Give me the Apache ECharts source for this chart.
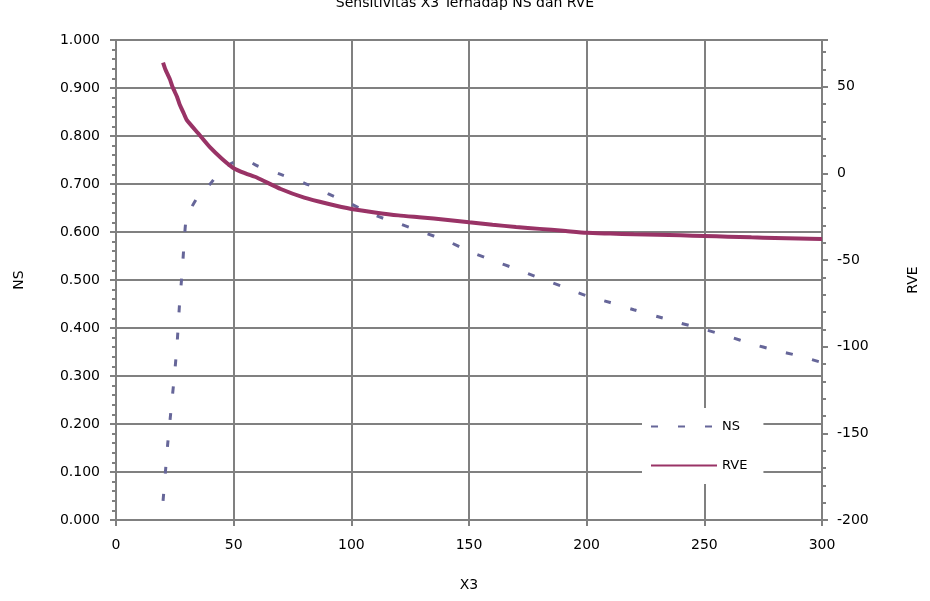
<!DOCTYPE html>
<html>
<head>
<meta charset="utf-8">
<script src="https://cdn.jsdelivr.net/npm/echarts@6/dist/echarts.min.js"></script>
<style>
  html, body { margin: 0; padding: 0; background: #fff; }
  #main { width: 930px; height: 601px; }
</style>
</head>
<body>
<div id="main"></div>
<script>
var xData = [20,21,22,23,24,25,26,27,28,29,30,35,40,45,50,55,60,70,80,90,100,
             110,120,130,140,150,160,170,180,190,200,210,220,230,240,250,260,270,280,290,300];
var nsData = [0.04,0.10,0.16,0.21,0.26,0.31,0.37,0.45,0.51,0.58,0.63,0.675,0.70,0.73,0.745,0.75,0.738,0.72,0.702,0.68,0.658,
              0.635,0.618,0.60,0.583,0.56,0.541,0.523,0.504,0.486,0.467,0.453,0.438,0.424,0.41,0.397,0.383,0.367,0.354,0.342,0.328];
var rveData = [64,60,57,54,50,47,44,40,37,34,31,23,15,8.5,3,0,-2.5,-9,-14,-17.5,-20.5,
               -22.5,-24.2,-25.4,-26.7,-28.2,-29.6,-30.9,-32,-33.1,-34.3,-34.7,-35.1,-35.4,-35.7,-36.1,-36.5,-36.9,-37.2,-37.5,-37.8];

function pairs(xs, ys) {
  return xs.map(function (x, i) { return [x, ys[i]]; });
}

var myChart = echarts.init(document.getElementById('main'));
var font = 'DejaVu Sans';
var gridColor = '#808080';

var option = {
  backgroundColor: '#fff',
  animation: false,
  textStyle: { fontFamily: font, color: '#000' },
  title: {
    text: 'Sensitivitas X3 Terhadap NS dan RVE',
    left: 'center',
    top: -9,
    textStyle: { fontFamily: font, fontSize: 14, fontWeight: 'normal', color: '#000' }
  },
  legend: {
    orient: 'vertical',
    left: 642,
    top: 408,
    itemWidth: 66,
    itemHeight: 10,
    itemGap: 26,
    padding: [12, 16, 12, 8],
    backgroundColor: '#fff',
    itemStyle: { opacity: 0 },
    textStyle: { fontFamily: font, fontSize: 13, color: '#000' },
    data: ['NS', 'RVE']
  },
  grid: { left: 116, right: 108, top: 40, bottom: 81 },
  xAxis: {
    type: 'value',
    min: 0, max: 300, interval: 50,
    name: 'X3',
    nameLocation: 'middle',
    nameGap: 58,
    nameTextStyle: { fontFamily: font, fontSize: 14, color: '#000' },
    axisLine: { lineStyle: { color: gridColor, width: 2 } },
    axisTick: { show: true, length: 6, lineStyle: { color: gridColor, width: 2 } },
    axisLabel: { margin: 18, fontSize: 14, color: '#000', fontFamily: font },
    splitLine: { show: true, lineStyle: { color: gridColor, width: 2 } }
  },
  yAxis: [{
    type: 'value',
    min: 0, max: 1, interval: 0.1,
    name: 'NS',
    nameLocation: 'middle',
    nameGap: 90,
    nameTextStyle: { fontFamily: font, fontSize: 14, color: '#000' },
    axisLine: { show: true, lineStyle: { color: gridColor, width: 2 } },
    axisTick: { show: true, length: 6, lineStyle: { color: gridColor, width: 2 } },
    minorTick: { show: true, splitNumber: 5, length: 4, lineStyle: { color: gridColor, width: 2 } },
    axisLabel: {
      margin: 16, fontSize: 14, color: '#000', fontFamily: font,
      formatter: function (v) { return v.toFixed(3); }
    },
    splitLine: { show: true, lineStyle: { color: gridColor, width: 2 } }
  }, {
    type: 'value',
    min: -200, max: 77, interval: 50,
    position: 'right',
    name: 'RVE',
    nameLocation: 'middle',
    nameGap: 84,
    nameRotate: 90,
    nameTextStyle: { fontFamily: font, fontSize: 14, color: '#000' },
    axisLine: { show: true, lineStyle: { color: gridColor, width: 2 } },
    axisTick: { show: true, length: 6, lineStyle: { color: gridColor, width: 2 } },
    minorTick: { show: true, splitNumber: 5, length: 4, lineStyle: { color: gridColor, width: 2 } },
    axisLabel: { margin: 15, fontSize: 14, color: '#000', fontFamily: font, showMaxLabel: false },
    splitLine: { show: false }
  }],
  series: [{
    name: 'NS',
    type: 'line',
    yAxisIndex: 0,
    symbol: 'none',
    smooth: 0.2,
    data: pairs(xData, nsData),
    itemStyle: { color: '#666699' },
    lineStyle: { color: '#666699', width: 3, type: [7, 20] }
  }, {
    name: 'RVE',
    type: 'line',
    yAxisIndex: 1,
    symbol: 'none',
    smooth: 0.2,
    data: pairs(xData, rveData),
    itemStyle: { color: '#993366' },
    lineStyle: { color: '#993366', width: 4 }
  }]
};
myChart.setOption(option);
</script>
</body>
</html>
